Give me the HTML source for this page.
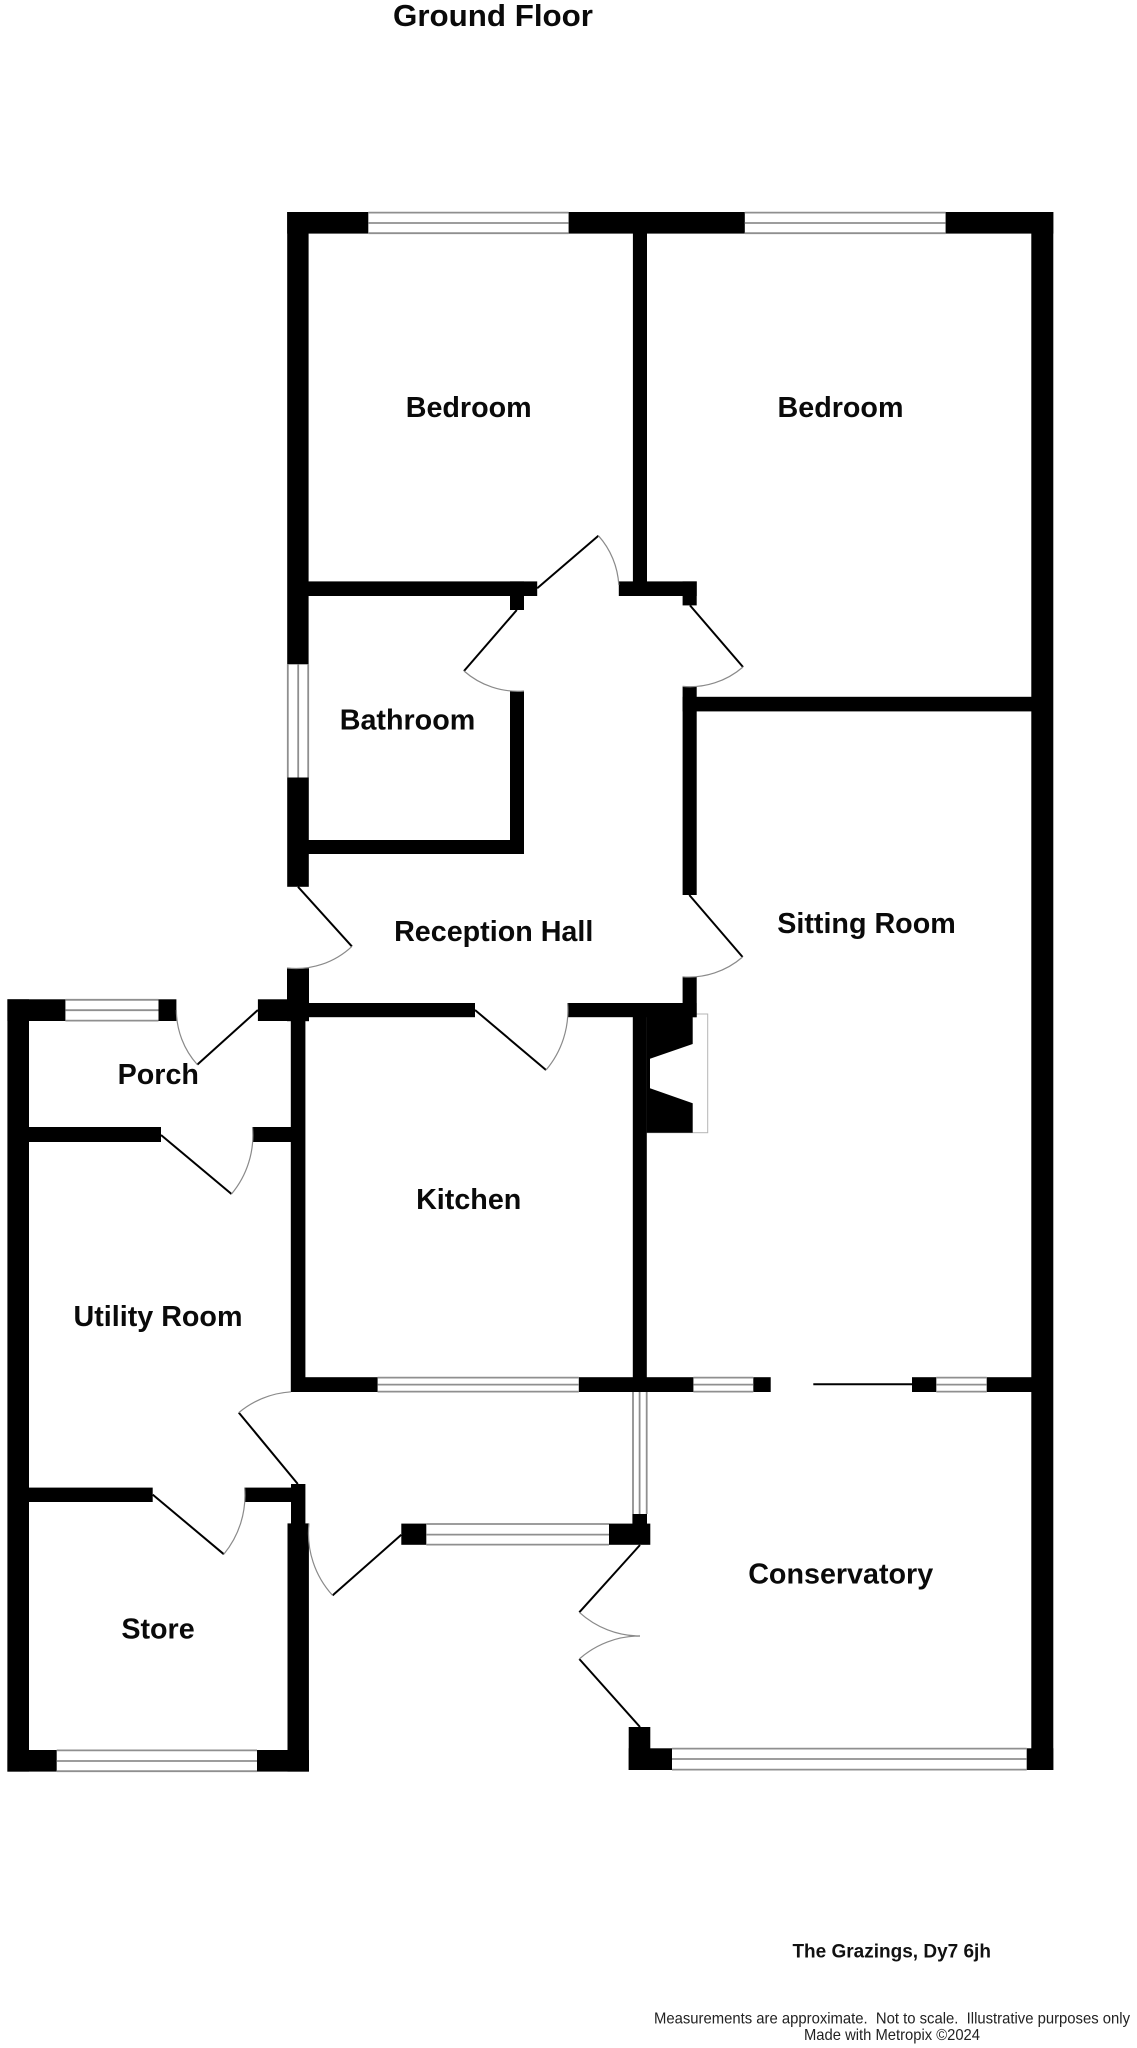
<!DOCTYPE html>
<html><head><meta charset="utf-8"><title>Ground Floor</title>
<style>
html,body{margin:0;padding:0;background:#fff;width:1137px;height:2048px;overflow:hidden}
svg{display:block}
text{font-family:"Liberation Sans",sans-serif;text-anchor:middle;white-space:pre}
.l{font-weight:bold;font-size:28.7px;fill:#0a0a0a}
.w line{stroke:#8f8f8f;stroke-width:1.8}
.leaf{stroke:#000;stroke-width:2;fill:none}
.arc{stroke:#8a8a8a;stroke-width:1.2;fill:none}
</style></head><body>
<svg width="1137" height="2048" viewBox="0 0 1137 2048" xmlns="http://www.w3.org/2000/svg">
<rect width="1137" height="2048" fill="#fff"/>
<rect x="646.7" y="1014" width="61" height="118.7" fill="#fff" stroke="#b5b5b5" stroke-width="1"/>
<polygon points="646.7,1015 692.7,1015 692.7,1044 650,1058.7 650,1088.3 692.7,1103.3 692.7,1132.7 646.7,1132.7" fill="#000"/>
<g fill="#000">
<rect x="287.2" y="212" width="81.1" height="21.6"/>
<rect x="568.6" y="212" width="176.2" height="21.6"/>
<rect x="945.6" y="212" width="107.7" height="21.6"/>
<rect x="287.2" y="212" width="21.4" height="452.3"/>
<rect x="287.2" y="777.5" width="21.6" height="109.3"/>
<rect x="632.9" y="212" width="14.1" height="384"/>
<rect x="1031.3" y="212" width="22" height="1558"/>
<rect x="308" y="581.4" width="229.2" height="14.6"/>
<rect x="510" y="581.4" width="14" height="28.6"/>
<rect x="618.8" y="581.4" width="77.9" height="14.6"/>
<rect x="682.6" y="581.4" width="14.1" height="24"/>
<rect x="510" y="691" width="14" height="163"/>
<rect x="308" y="840" width="216" height="14"/>
<rect x="682.6" y="686.4" width="14.1" height="208.6"/>
<rect x="682.6" y="696.8" width="349" height="14.6"/>
<rect x="287" y="968.2" width="22" height="53"/>
<rect x="309" y="1003" width="166" height="14.2"/>
<rect x="567.6" y="1003" width="129" height="14.2"/>
<rect x="682.6" y="976.8" width="14.1" height="40.4"/>
<rect x="632.8" y="1003" width="14" height="389"/>
<rect x="7.4" y="999.3" width="58" height="21.7"/>
<rect x="158.5" y="999.3" width="17.9" height="21.7"/>
<rect x="257.9" y="999.3" width="51.1" height="21.7"/>
<rect x="7.4" y="999.3" width="21.6" height="772.3"/>
<rect x="290.8" y="1017" width="14.6" height="375"/>
<rect x="29" y="1127" width="132" height="15"/>
<rect x="252.5" y="1127" width="38.5" height="15"/>
<rect x="291" y="1377.2" width="86.6" height="14.8"/>
<rect x="578.8" y="1377.2" width="114.6" height="14.8"/>
<rect x="753.3" y="1377.2" width="17.4" height="14.8"/>
<rect x="912" y="1377.2" width="24.3" height="14.8"/>
<rect x="986.7" y="1377.2" width="45" height="14.8"/>
<rect x="29" y="1487.6" width="123.7" height="14.4"/>
<rect x="244.6" y="1487.6" width="50" height="14.4"/>
<rect x="291" y="1484" width="14.4" height="42"/>
<rect x="287.5" y="1523.4" width="21.4" height="248.2"/>
<rect x="7.4" y="1750" width="49.3" height="21.6"/>
<rect x="257" y="1750" width="52" height="21.6"/>
<rect x="401.3" y="1523.6" width="25" height="21.2"/>
<rect x="609" y="1523.6" width="41.3" height="21.2"/>
<rect x="632.4" y="1514" width="14.6" height="12"/>
<rect x="628.7" y="1727" width="21.6" height="43"/>
<rect x="628.7" y="1748.3" width="43.3" height="21.7"/>
<rect x="1026.7" y="1748.3" width="26.6" height="21.7"/>
</g>
<g class="w">
<line x1="368.3" y1="212.6" x2="568.6" y2="212.6"/><line x1="368.3" y1="223" x2="568.6" y2="223"/><line x1="368.3" y1="233.2" x2="568.6" y2="233.2"/>
<line x1="744.8" y1="212.6" x2="945.6" y2="212.6"/><line x1="744.8" y1="223" x2="945.6" y2="223"/><line x1="744.8" y1="233.2" x2="945.6" y2="233.2"/>
<line x1="287.8" y1="664.3" x2="287.8" y2="777.5"/><line x1="298.2" y1="664.3" x2="298.2" y2="777.5"/><line x1="308.2" y1="664.3" x2="308.2" y2="777.5"/>
<line x1="65.4" y1="999.8" x2="158.5" y2="999.8"/><line x1="65.4" y1="1010.2" x2="158.5" y2="1010.2"/><line x1="65.4" y1="1020.6" x2="158.5" y2="1020.6"/>
<line x1="377.6" y1="1377.6" x2="578.8" y2="1377.6"/><line x1="377.6" y1="1384.6" x2="578.8" y2="1384.6"/><line x1="377.6" y1="1391.6" x2="578.8" y2="1391.6"/>
<line x1="693.4" y1="1377.6" x2="753.3" y2="1377.6"/><line x1="693.4" y1="1384.6" x2="753.3" y2="1384.6"/><line x1="693.4" y1="1391.6" x2="753.3" y2="1391.6"/>
<line x1="936.3" y1="1377.6" x2="986.7" y2="1377.6"/><line x1="936.3" y1="1384.6" x2="986.7" y2="1384.6"/><line x1="936.3" y1="1391.6" x2="986.7" y2="1391.6"/>
<line x1="633" y1="1392" x2="633" y2="1514"/><line x1="639.6" y1="1392" x2="639.6" y2="1514"/><line x1="646.7" y1="1392" x2="646.7" y2="1514"/>
<line x1="426.3" y1="1524" x2="609" y2="1524"/><line x1="426.3" y1="1534.6" x2="609" y2="1534.6"/><line x1="426.3" y1="1544.6" x2="609" y2="1544.6"/>
<line x1="56.7" y1="1750.4" x2="257" y2="1750.4"/><line x1="56.7" y1="1761" x2="257" y2="1761"/><line x1="56.7" y1="1771.2" x2="257" y2="1771.2"/>
<line x1="672" y1="1748.6" x2="1026.7" y2="1748.6"/><line x1="672" y1="1759" x2="1026.7" y2="1759"/><line x1="672" y1="1769.6" x2="1026.7" y2="1769.6"/>
</g>
<g class="leaf">
<line x1="537.2" y1="588.2" x2="598.4" y2="535.7"/>
<line x1="516.8" y1="610" x2="464" y2="671"/>
<line x1="690" y1="605.4" x2="743" y2="667"/>
<line x1="298" y1="886.8" x2="351.9" y2="946.4"/>
<line x1="689.3" y1="895" x2="742.6" y2="957"/>
<line x1="475" y1="1010" x2="546" y2="1070"/>
<line x1="257.9" y1="1010" x2="197.3" y2="1064.6"/>
<line x1="161" y1="1135" x2="231.5" y2="1194"/>
<line x1="152.7" y1="1494.6" x2="223.8" y2="1554.2"/>
<line x1="297.8" y1="1484" x2="238.8" y2="1412.6"/>
<line x1="401.3" y1="1534.8" x2="332.6" y2="1595.4"/>
<line x1="640" y1="1545" x2="579.3" y2="1612.3"/>
<line x1="640" y1="1727" x2="579.3" y2="1659"/>
<line x1="813.3" y1="1384.3" x2="912" y2="1384.3"/>
</g>
<g class="arc">
<path d="M598.4 535.7A80.3 80.3 0 0 1 618.8 585"/>
<path d="M464 671A81 81 0 0 0 524 691"/>
<path d="M743 667A81 81 0 0 1 682.6 686.4"/>
<path d="M351.9 946.4A81.5 81.5 0 0 1 287 968"/>
<path d="M742.6 957A82 82 0 0 1 682.5 976.8"/>
<path d="M546 1070A92 92 0 0 0 567.6 1003"/>
<path d="M197.3 1064.6A81.5 81.5 0 0 1 176.4 1010"/>
<path d="M231.5 1194A91.5 91.5 0 0 0 252.5 1127"/>
<path d="M223.8 1554.2A92 92 0 0 0 244.6 1487.6"/>
<path d="M238.8 1412.6A92.5 92.5 0 0 1 291 1391.8"/>
<path d="M332.6 1595.4A92 92 0 0 1 309 1523.4"/>
<path d="M579.3 1612.3A90.6 90.6 0 0 0 640 1636"/>
<path d="M579.3 1659A91 91 0 0 1 640 1636"/>
</g>
<text x="493" y="26" class="l" style="font-size:31px" textLength="200" lengthAdjust="spacingAndGlyphs">Ground Floor</text>
<text x="468.7" y="417" class="l">Bedroom</text>
<text x="840.5" y="417" class="l">Bedroom</text>
<text x="407.5" y="729.5" class="l">Bathroom</text>
<text x="493.7" y="941" class="l">Reception Hall</text>
<text x="866.5" y="933" class="l">Sitting Room</text>
<text x="158.3" y="1084" class="l">Porch</text>
<text x="468.7" y="1209" class="l">Kitchen</text>
<text x="158" y="1326" class="l">Utility Room</text>
<text x="158" y="1638.6" class="l">Store</text>
<text x="840.7" y="1583.3" class="l">Conservatory</text>
<text x="891.7" y="1957.7" font-weight="bold" font-size="19" fill="#111">The Grazings, Dy7 6jh</text>
<text x="892" y="2023.3" font-size="16" fill="#222" textLength="476" lengthAdjust="spacingAndGlyphs" xml:space="preserve">Measurements are approximate.  Not to scale.  Illustrative purposes only</text>
<text x="892" y="2040" font-size="16" fill="#222" textLength="176" lengthAdjust="spacingAndGlyphs">Made with Metropix ©2024</text>
</svg>
</body></html>
